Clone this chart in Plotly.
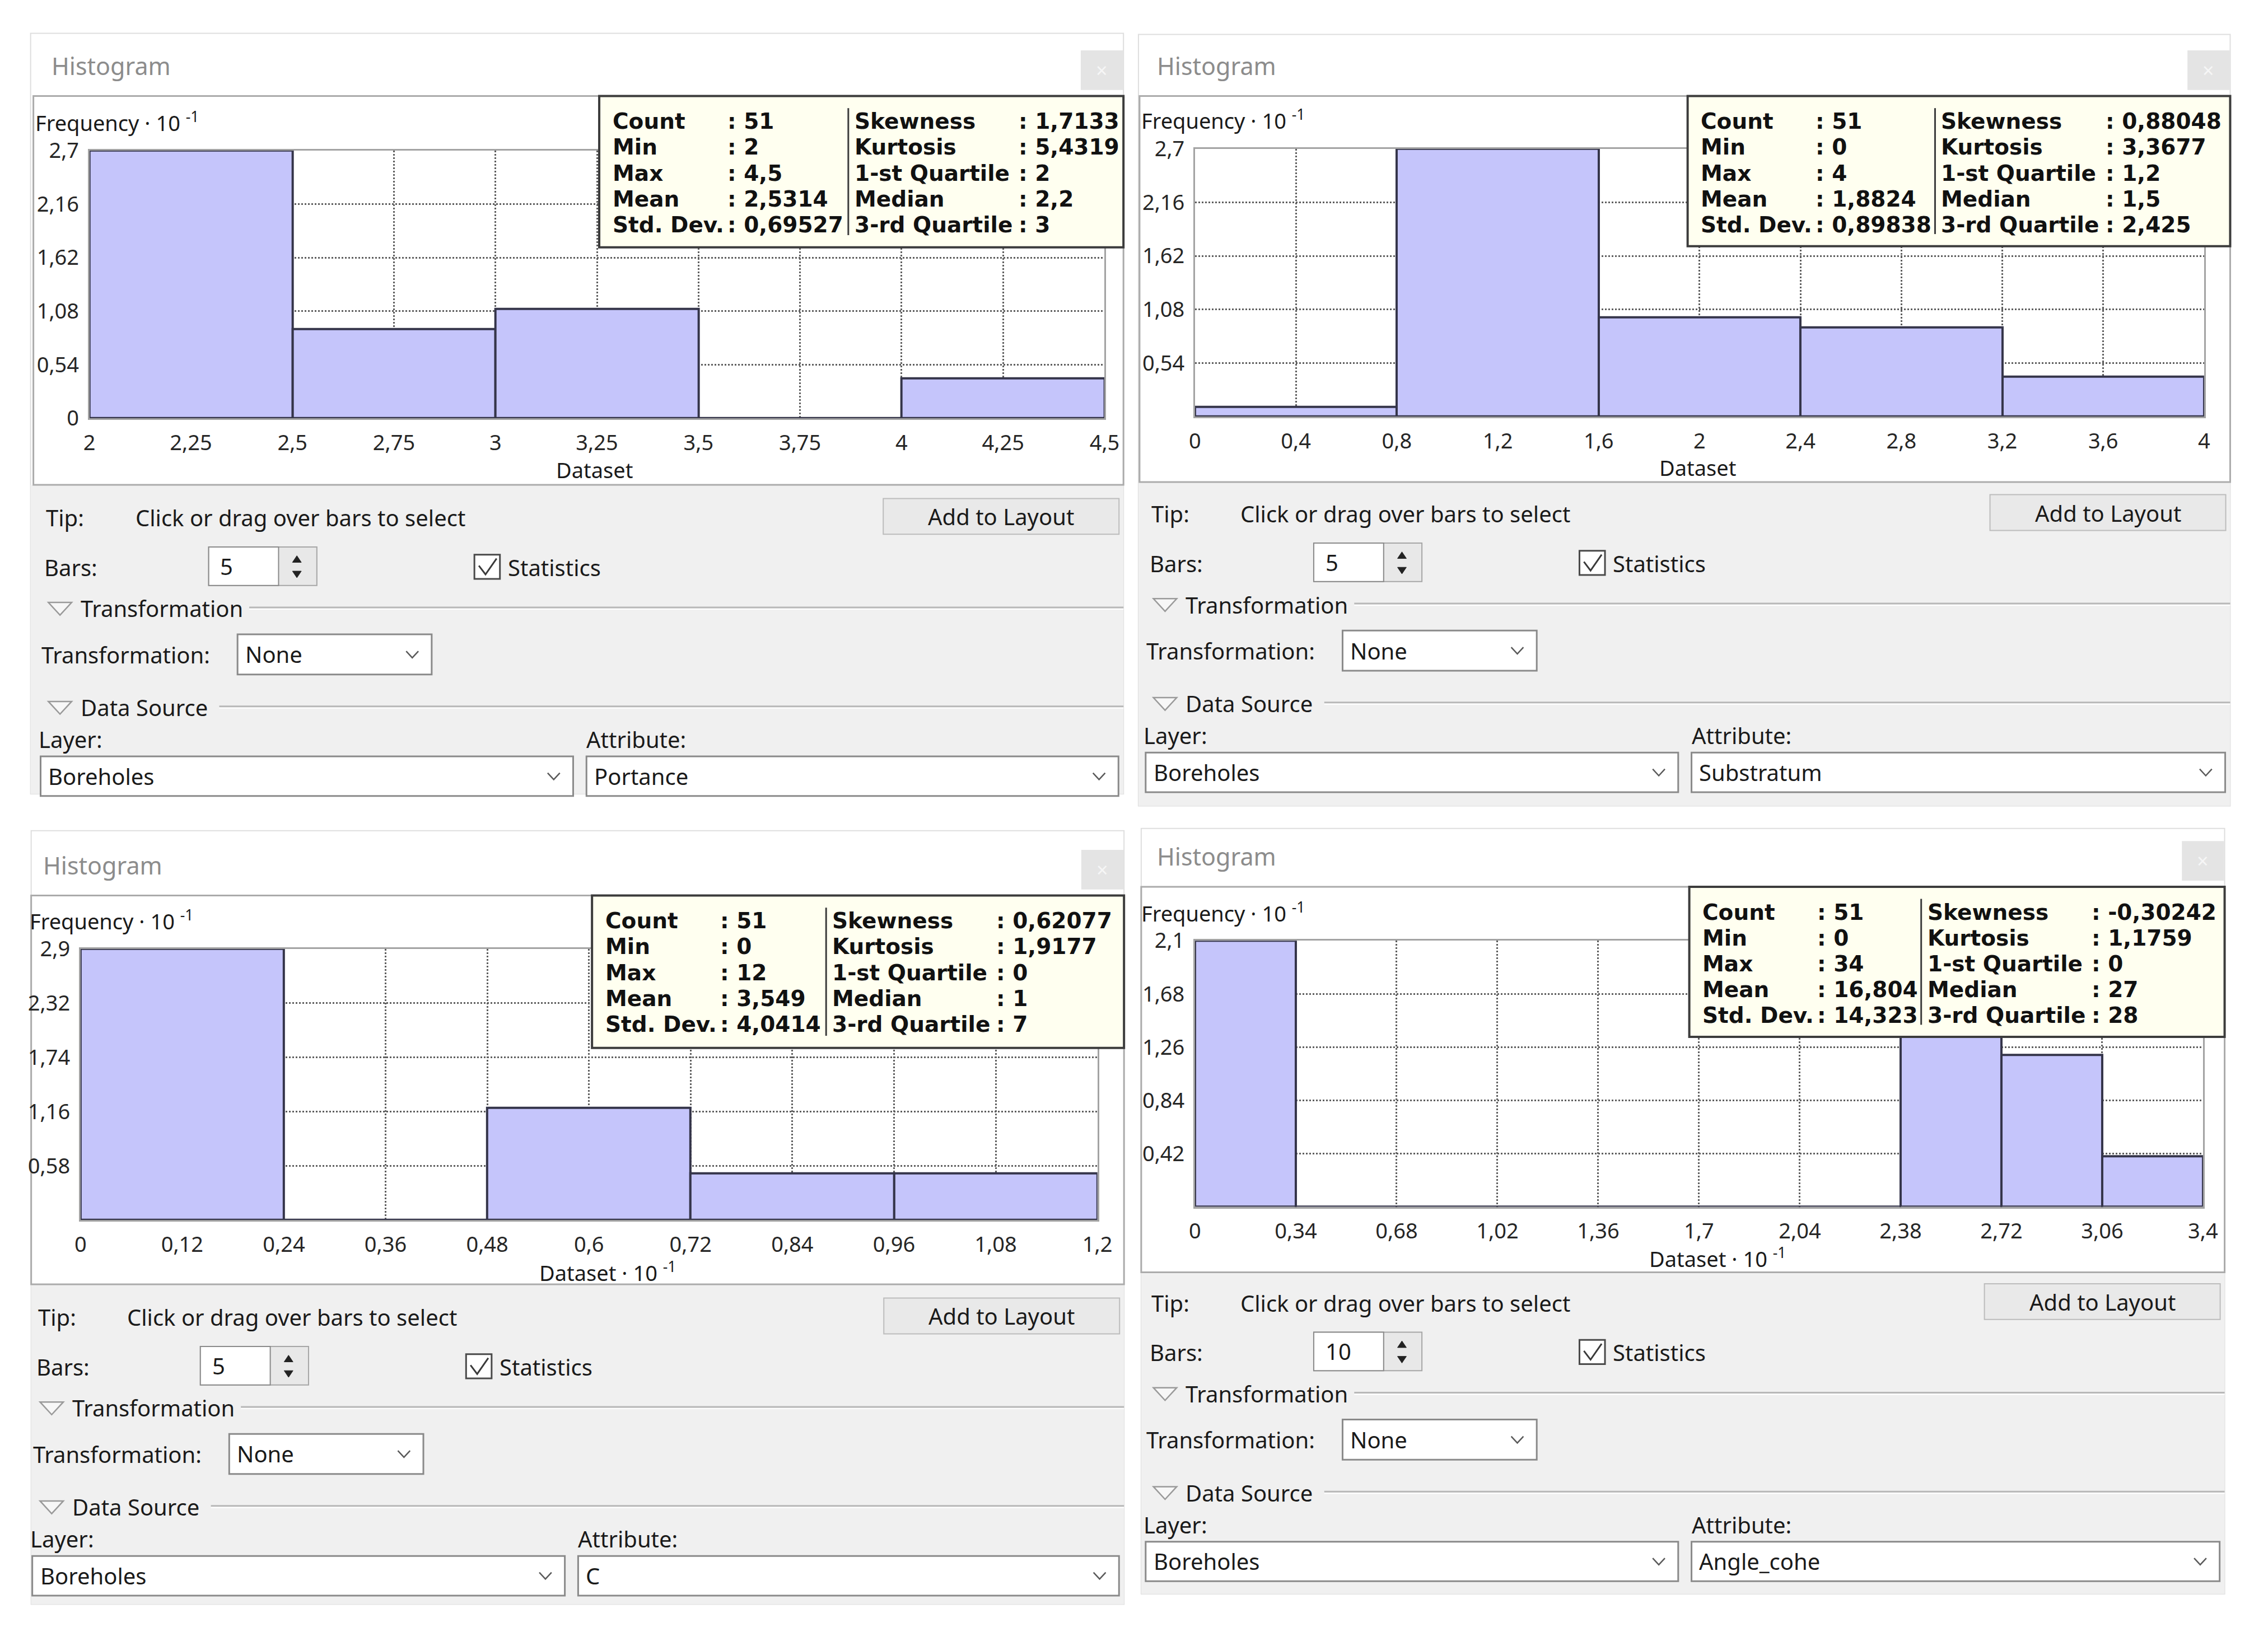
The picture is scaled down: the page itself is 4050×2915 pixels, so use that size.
import plotly.graph_objects as go

W, H = 4050, 2915
PAGE_OFFSET = 8  # the page body margin shifts the figure by 8px

# ---------------- data ----------------
PANEL_TITLE = "Histogram"
LAYER_NAME = "Boreholes"
ATTRIBUTES = ["Portance", "Substratum", "C", "Angle_cohe"]
BAR_NUMBERS = ["5", "5", "5", "10"]

X_RANGES = [[2, 4.5], [0, 4], [0, 1.2], [0, 3.4]]
Y_MAX = [2.7, 2.7, 2.9, 2.1]

# counts per bin (the chart shows Frequency · 10^-1)
COUNTS_PORTANCE = [27, 9, 11, 0, 4]
COUNTS_SUBSTRATUM = [1, 27, 10, 9, 4]
COUNTS_C = [29, 0, 12, 5, 5]
COUNTS_ANGLE = [21, 0, 0, 0, 0, 0, 0, 14, 12, 4]
COUNTS = [COUNTS_PORTANCE, COUNTS_SUBSTRATUM, COUNTS_C, COUNTS_ANGLE]

X_TICKVALS_1 = [2, 2.25, 2.5, 2.75, 3, 3.25, 3.5, 3.75, 4, 4.25, 4.5]
X_TICKTEXT_1 = ["2", "2,25", "2,5", "2,75", "3", "3,25", "3,5", "3,75", "4", "4,25", "4,5"]
X_TICKVALS_2 = [0, 0.4, 0.8, 1.2, 1.6, 2, 2.4, 2.8, 3.2, 3.6, 4]
X_TICKTEXT_2 = ["0", "0,4", "0,8", "1,2", "1,6", "2", "2,4", "2,8", "3,2", "3,6", "4"]
X_TICKVALS_3 = [0, 0.12, 0.24, 0.36, 0.48, 0.6, 0.72, 0.84, 0.96, 1.08, 1.2]
X_TICKTEXT_3 = ["0", "0,12", "0,24", "0,36", "0,48", "0,6", "0,72", "0,84", "0,96", "1,08", "1,2"]
X_TICKVALS_4 = [0, 0.34, 0.68, 1.02, 1.36, 1.7, 2.04, 2.38, 2.72, 3.06, 3.4]
X_TICKTEXT_4 = ["0", "0,34", "0,68", "1,02", "1,36", "1,7", "2,04", "2,38", "2,72", "3,06", "3,4"]
X_TICKVALS = [X_TICKVALS_1, X_TICKVALS_2, X_TICKVALS_3, X_TICKVALS_4]
X_TICKTEXT = [X_TICKTEXT_1, X_TICKTEXT_2, X_TICKTEXT_3, X_TICKTEXT_4]

Y_TICKVALS_1 = [0, 0.54, 1.08, 1.62, 2.16, 2.7]
Y_TICKTEXT_1 = ["0", "0,54", "1,08", "1,62", "2,16", "2,7"]
Y_TICKVALS_2 = [0.54, 1.08, 1.62, 2.16, 2.7]
Y_TICKTEXT_2 = ["0,54", "1,08", "1,62", "2,16", "2,7"]
Y_TICKVALS_3 = [0.58, 1.16, 1.74, 2.32, 2.9]
Y_TICKTEXT_3 = ["0,58", "1,16", "1,74", "2,32", "2,9"]
Y_TICKVALS_4 = [0.42, 0.84, 1.26, 1.68, 2.1]
Y_TICKTEXT_4 = ["0,42", "0,84", "1,26", "1,68", "2,1"]
Y_TICKVALS = [Y_TICKVALS_1, Y_TICKVALS_2, Y_TICKVALS_3, Y_TICKVALS_4]
Y_TICKTEXT = [Y_TICKTEXT_1, Y_TICKTEXT_2, Y_TICKTEXT_3, Y_TICKTEXT_4]

Y_TITLE = "Frequency · 10 <sup>-1</sup>"
X_TITLES = ["Dataset", "Dataset", "Dataset · 10 <sup>-1</sup>", "Dataset · 10 <sup>-1</sup>"]

STAT_LABELS_LEFT = ["Count", "Min", "Max", "Mean", "Std. Dev."]
STAT_LABELS_RIGHT = ["Skewness", "Kurtosis", "1-st Quartile", "Median", "3-rd Quartile"]
STATS_LEFT_1 = ["51", "2", "4,5", "2,5314", "0,69527"]
STATS_RIGHT_1 = ["1,7133", "5,4319", "2", "2,2", "3"]
STATS_LEFT_2 = ["51", "0", "4", "1,8824", "0,89838"]
STATS_RIGHT_2 = ["0,88048", "3,3677", "1,2", "1,5", "2,425"]
STATS_LEFT_3 = ["51", "0", "12", "3,549", "4,0414"]
STATS_RIGHT_3 = ["0,62077", "1,9177", "0", "1", "7"]
STATS_LEFT_4 = ["51", "0", "34", "16,804", "14,323"]
STATS_RIGHT_4 = ["-0,30242", "1,1759", "0", "27", "28"]
STATS_LEFT = [STATS_LEFT_1, STATS_LEFT_2, STATS_LEFT_3, STATS_LEFT_4]
STATS_RIGHT = [STATS_RIGHT_1, STATS_RIGHT_2, STATS_RIGHT_3, STATS_RIGHT_4]

# ---------------- geometry (pixels in the 4050x2915 canvas) ----------------
PANELS = [
    dict(box=(44, 32, 2014, 1415), origin=(44, 32), title_y=91,
         chart=(49, 146, 2014, 853), plot=(150, 245, 1980, 732),
         stats=(1069, 146, 2014, 421, 1518), freq=(50, 193), xtitle=(1060, 826)),
    dict(box=(2041, 34, 4009, 1437), origin=(2036, 25), title_y=91,
         chart=(2043, 146, 4009, 848), plot=(2143, 242, 3962, 729),
         stats=(3031, 146, 4009, 419, 3477), freq=(2044, 189), xtitle=(3049, 822)),
    dict(box=(45, 1482, 2015, 2889), origin=(29, 1486), title_y=1545,
         chart=(45, 1600, 2015, 2307), plot=(134, 1697, 1967, 2190),
         stats=(1056, 1600, 2015, 1877, 1478), freq=(40, 1645), xtitle=(1085, 2284)),
    dict(box=(2046, 1478, 3999, 2870), origin=(2036, 1460), title_y=1529,
         chart=(2046, 1584, 3999, 2285), plot=(2143, 1682, 3960, 2166),
         stats=(3034, 1584, 3999, 1857, 3452), freq=(2044, 1630), xtitle=(3085, 2259)),
]

UI_FONT = "Noto Sans"
STAT_FONT = "DejaVu Sans"
TEXT_COLOR = "#1a1a1a"
UI_SIZE = 40
STAT_SIZE = 39

shapes = []
annotations = []


def px(x):
    return (x - PAGE_OFFSET) / W


def py(y):
    return 1 - (y - PAGE_OFFSET) / H


def rect(x0, y0, x1, y1, fill=None, line=None, lw=0, layer="below"):
    shapes.append(dict(type="rect", xref="paper", yref="paper",
                       x0=px(x0), x1=px(x1), y0=py(y1), y1=py(y0),
                       fillcolor=fill or "rgba(0,0,0,0)",
                       line=dict(color=line or "rgba(0,0,0,0)", width=lw),
                       layer=layer))


def seg(x0, y0, x1, y1, color, width=2, layer="below"):
    shapes.append(dict(type="line", xref="paper", yref="paper",
                       x0=px(x0), x1=px(x1), y0=py(y0), y1=py(y1),
                       line=dict(color=color, width=width), layer=layer))


def path(points, color, width=2, fill=None, closed=False, layer="below"):
    d = "M" + " L".join(f"{px(x):.6f},{py(y):.6f}" for x, y in points)
    if closed:
        d += " Z"
    shapes.append(dict(type="path", xref="paper", yref="paper", path=d,
                       line=dict(color=color, width=width),
                       fillcolor=fill or "rgba(0,0,0,0)", layer=layer))


def text(x, y, s, size=UI_SIZE, color=TEXT_COLOR, anchor="left", family=UI_FONT):
    annotations.append(dict(xref="paper", yref="paper", x=px(x), y=py(y), text=s,
                            showarrow=False, xanchor=anchor, yanchor="middle",
                            font=dict(size=size, color=color, family=family)))


def chevron(cx, cy, color="#5a5a5a"):
    path([(cx - 11, cy - 6), (cx, cy + 6), (cx + 11, cy - 6)], color, width=2.5)


def dropdown(x0, y0, x1, y1, label):
    rect(x0, y0, x1, y1, fill="#ffffff", line="#8a8a8a", lw=3)
    text(x0 + 12, (y0 + y1) / 2, label)
    chevron(x1 - 35, (y0 + y1) / 2)


def section(ox, R, y, label, line_start):
    path([(ox + 32, y - 11), (ox + 74, y - 11), (ox + 53, y + 12)], "#9a9a9a",
         width=2.5, fill="#f7f7f7", closed=True)
    text(ox + 88, y, label)
    seg(ox + line_start, y - 2, R, y - 2, "#b8b8b8", width=3)
    seg(ox + line_start, y + 1, R, y + 1, "#ffffff", width=2)


def draw_panel(i, g):
    L, T, R, B = g["box"]
    ox, oy = g["origin"]
    cx0, cy0, cx1, cy1 = g["chart"]
    ty = g["title_y"]
    # frame
    rect(L, T, R, B, fill="#ffffff", line="#dedede", lw=2)
    rect(L, cy1, R, B, fill="#f0f0f0")
    rect(cx0, cy0, cx1, cy1, fill="#ffffff", line="#ababab", lw=3)
    # title + close
    text(ox + 36, ty, PANEL_TITLE, size=43, color="#8c8c8c")
    rect(R - 77, ty - 28, R - 1, ty + 44, fill="#e4e4e4")
    text(R - 39, ty + 8, "×", size=36, color="#f6f6f6", anchor="center")
    # axis captions
    fx, fy = g["freq"]
    text(fx, fy, Y_TITLE, size=38)
    tx, tyy = g["xtitle"]
    text(tx, tyy, X_TITLES[i], size=38, anchor="center")
    # statistics box
    sx0, sy0, sx1, sy1, sep = g["stats"]
    rect(sx0, sy0, sx1, sy1, fill="#fffff0", line="#3c3c3c", lw=4, layer="above")
    seg(sep, sy0 + 22, sep, sy1 - 22, "#3c3c3c", width=3, layer="above")
    for k in range(5):
        yy = sy0 + 46 + 47 * k
        text(sx0 + 22, yy, "<b>" + STAT_LABELS_LEFT[k] + "</b>", size=STAT_SIZE, family=STAT_FONT, color="#111")
        text(sx0 + 229, yy, "<b>: " + STATS_LEFT[i][k] + "</b>", size=STAT_SIZE, family=STAT_FONT, color="#111")
        text(sep + 9, yy, "<b>" + STAT_LABELS_RIGHT[k] + "</b>", size=STAT_SIZE, family=STAT_FONT, color="#111")
        text(sep + 305, yy, "<b>: " + STATS_RIGHT[i][k] + "</b>", size=STAT_SIZE, family=STAT_FONT, color="#111")
    # Tip row
    text(ox + 26, oy + 881, "Tip:")
    text(ox + 187, oy + 881, "Click or drag over bars to select")
    rect(R - 433, oy + 846, R - 8, oy + 911, fill="#e9e9e9", line="#bcbcbc", lw=2)
    text((R - 433 + R - 8) / 2, oy + 879, "Add to Layout", anchor="center")
    # Bars row
    text(ox + 23, oy + 971, "Bars:")
    rect(ox + 321, oy + 934, ox + 516, oy + 1004, fill="#e8e8e8", line="#a6a6a6", lw=2)
    rect(ox + 321, oy + 934, ox + 447, oy + 1004, fill="#ffffff", line="#8a8a8a", lw=2)
    path([(ox + 472, oy + 962), (ox + 488, oy + 962), (ox + 480, oy + 950)], "#222", width=1, fill="#222", closed=True)
    path([(ox + 472, oy + 978), (ox + 488, oy + 978), (ox + 480, oy + 990)], "#222", width=1, fill="#222", closed=True)
    text(ox + 340, oy + 969, BAR_NUMBERS[i])
    # Statistics checkbox
    rect(ox + 800, oy + 948, ox + 846, oy + 992, fill="#ffffff", line="#4a4a4a", lw=3)
    path([(ox + 808, oy + 968), (ox + 820, oy + 984), (ox + 840, oy + 955)], "#3a3a3a", width=3)
    text(ox + 858, oy + 971, "Statistics")
    # Transformation section
    section(ox, R, oy + 1046, "Transformation", 394)
    text(ox + 17, oy + 1130, "Transformation:")
    dropdown(ox + 373, oy + 1093, ox + 723, oy + 1166, "None")
    # Data source section
    section(ox, R, oy + 1226, "Data Source", 340)
    text(ox + 12, oy + 1284, "Layer:")
    text(ox + 1000, oy + 1284, "Attribute:")
    dropdown(ox + 18, oy + 1315, ox + 978, oy + 1387, LAYER_NAME)
    dropdown(ox + 1002, oy + 1315, R - 9, oy + 1387, ATTRIBUTES[i])


fig = go.Figure()
layout_axes = {}
for i, g in enumerate(PANELS):
    n = i + 1
    suffix = "" if n == 1 else str(n)
    lo, hi = X_RANGES[i]
    counts = COUNTS[i]
    nb = len(counts)
    bw = (hi - lo) / nb
    centers = [lo + bw * (k + 0.5) for k in range(nb)]
    freq = [c * 0.1 for c in counts]  # Frequency · 10^-1
    fig.add_trace(go.Bar(
        x=centers, y=freq, width=bw, xaxis="x" + suffix, yaxis="y" + suffix,
        marker=dict(color="#c5c5fb", line=dict(color="#35354a", width=4)),
        showlegend=False, hoverinfo="skip"))
    x0, y0, x1, y1 = g["plot"]
    common = dict(showgrid=True, gridcolor="#5e5e5e", griddash="dot", gridwidth=3,
                  showline=True, linecolor="#a3a3a3", linewidth=3, mirror=True,
                  zeroline=False, ticks="", fixedrange=True, tickangle=0,
                  tickfont=dict(size=38, family=UI_FONT, color="#262626"))
    layout_axes["xaxis" + suffix] = dict(
        domain=[px(x0), px(x1)], range=[lo, hi], anchor="y" + suffix,
        tickmode="array", tickvals=X_TICKVALS[i], ticktext=X_TICKTEXT[i],
        ticklabelstandoff=8, **common)
    layout_axes["yaxis" + suffix] = dict(
        domain=[py(y1), py(y0)], range=[0, Y_MAX[i]], anchor="x" + suffix,
        tickmode="array", tickvals=Y_TICKVALS[i], ticktext=Y_TICKTEXT[i],
        ticklabelstandoff=8, **common)
    draw_panel(i, g)

fig.update_layout(
    width=W, height=H, margin=dict(l=0, r=0, t=0, b=0),
    paper_bgcolor="#ffffff", plot_bgcolor="rgba(0,0,0,0)",
    bargap=0, shapes=shapes, annotations=annotations,
    **layout_axes)

fig.write_html("out.html")
